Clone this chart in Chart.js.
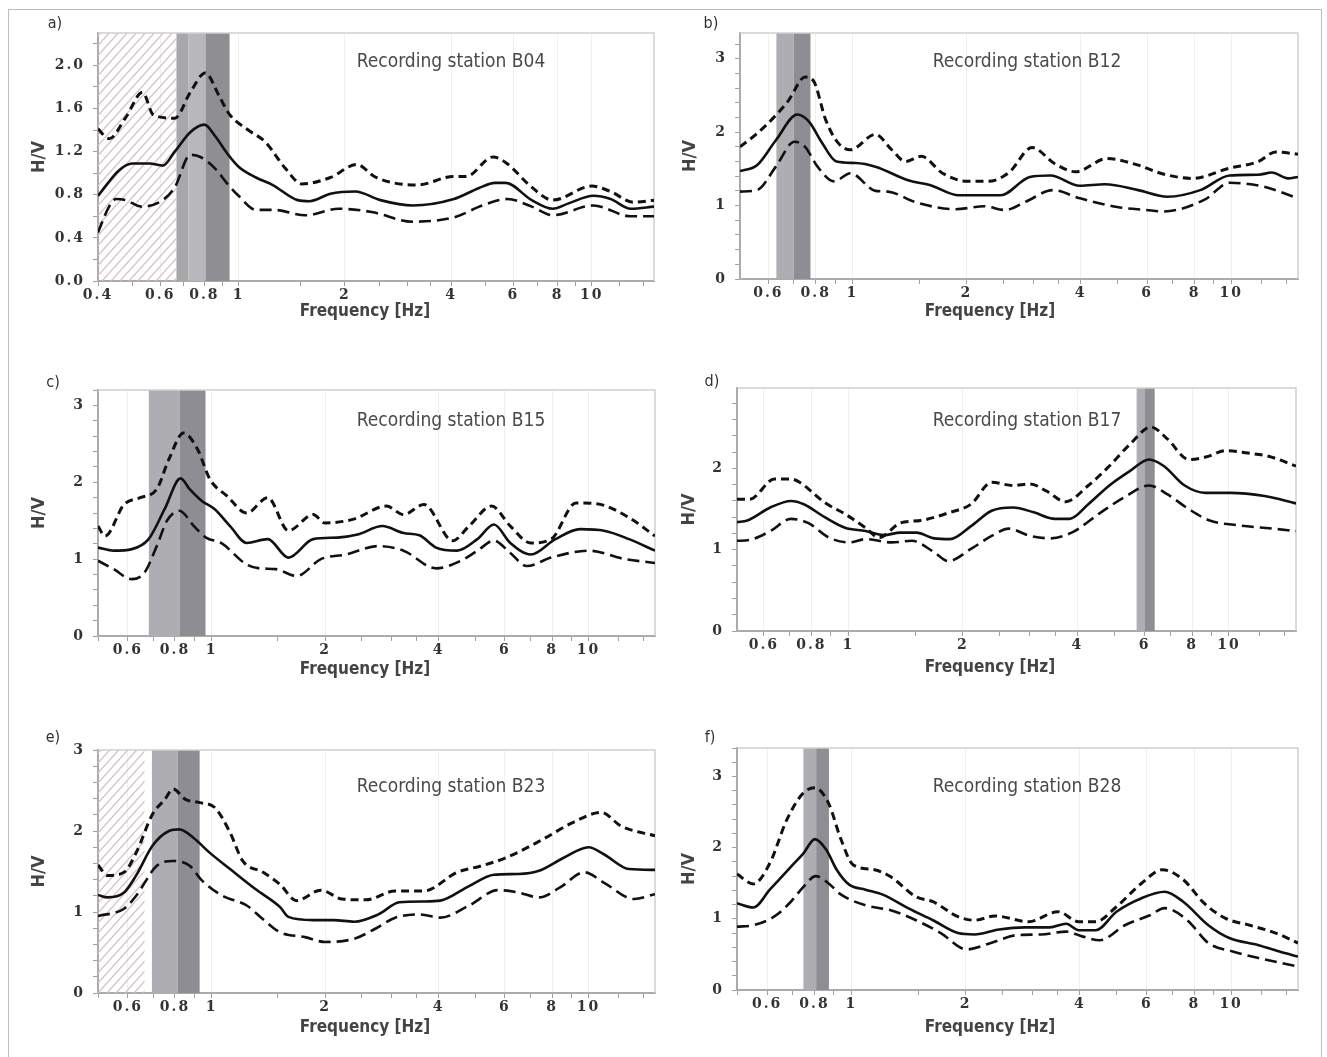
<!DOCTYPE html>
<html>
<head>
<meta charset="utf-8">
<script src="https://cdn.jsdelivr.net/npm/chart.js@4.4.1/dist/chart.umd.min.js"></script>
<style>
  html, body { margin:0; padding:0; background:#ffffff; }
  body { width:1327px; height:1057px; overflow:hidden; position:relative; }
  .frame { position:absolute; left:8px; top:9px; width:1314px; height:1100px; border:1px solid #bdbdbd; box-sizing:border-box; }
  canvas { position:absolute; }
</style>
</head>
<body>
<div class="frame"></div>
<script>
// ---------------- DATA ----------------
// Panel a) – station B04
const aMeanHz = [0.40,0.46,0.50,0.56,0.61,0.66,0.73,0.80,0.86,0.93,1.00,1.12,1.25,1.47,1.59,1.82,2.14,2.52,3.11,4.07,4.78,5.32,5.70,6.76,7.75,8.6,10.1,11.3,12.9,15];
const aMean   = [0.79,1.03,1.09,1.09,1.07,1.20,1.38,1.45,1.34,1.18,1.06,0.96,0.89,0.75,0.74,0.81,0.83,0.75,0.70,0.76,0.86,0.91,0.91,0.75,0.67,0.72,0.79,0.76,0.67,0.69];
const aUpHz   = [0.40,0.43,0.48,0.535,0.574,0.66,0.73,0.805,0.88,0.94,1.065,1.19,1.36,1.51,1.82,2.16,2.45,3.2,4.07,4.41,5.25,5.7,6.76,7.75,10.0,11.3,13.1,15];
const aUp     = [1.41,1.32,1.52,1.75,1.54,1.51,1.75,1.93,1.72,1.55,1.40,1.29,1.04,0.90,0.96,1.08,0.96,0.89,0.97,0.97,1.15,1.10,0.87,0.75,0.88,0.83,0.73,0.75];
const aLoHz   = [0.40,0.43,0.45,0.48,0.53,0.61,0.66,0.73,0.78,0.86,0.93,1.0,1.12,1.25,1.55,1.92,2.38,3.11,4.07,4.9,5.77,6.76,7.75,10.1,12.9,15];
const aLo     = [0.45,0.69,0.76,0.75,0.69,0.75,0.87,1.17,1.15,1.04,0.90,0.79,0.66,0.66,0.61,0.67,0.64,0.55,0.59,0.70,0.76,0.69,0.61,0.70,0.60,0.60];
const aBandHz = [0.667,0.72,0.806,0.943];
const aHatchHz = [0.4,0.667];

// Panel b) – station B12
const bMeanHz = [0.505,0.56,0.628,0.716,0.769,0.828,0.908,1.02,1.15,1.41,1.60,1.91,2.46,2.94,3.33,3.98,4.64,5.68,6.78,8.28,9.9,11.8,12.8,14.1,15];
const bMean   = [1.47,1.55,1.89,2.24,2.14,1.87,1.60,1.58,1.53,1.34,1.28,1.14,1.14,1.39,1.41,1.27,1.29,1.21,1.12,1.21,1.41,1.42,1.45,1.37,1.39];
const bUpHz   = [0.505,0.56,0.628,0.678,0.75,0.789,0.851,0.918,0.988,1.15,1.27,1.38,1.52,1.73,2.01,2.28,2.59,2.98,3.42,3.88,4.7,5.68,6.61,7.89,9.9,11.8,13.1,15];
const bUp     = [1.80,1.98,2.23,2.43,2.75,2.70,2.16,1.85,1.76,1.97,1.76,1.60,1.67,1.44,1.33,1.33,1.45,1.79,1.57,1.46,1.64,1.55,1.43,1.37,1.51,1.60,1.73,1.70];
const bLoHz   = [0.505,0.56,0.628,0.703,0.75,0.809,0.895,0.988,1.15,1.24,1.48,1.87,2.23,2.53,2.86,3.38,3.98,5.0,5.97,6.61,8.5,9.9,12.1,15];
const bLo     = [1.19,1.21,1.53,1.87,1.80,1.53,1.33,1.44,1.20,1.19,1.04,0.95,0.99,0.94,1.05,1.21,1.10,0.98,0.94,0.92,1.08,1.31,1.26,1.10];
const bBandHz = [0.63,0.70,0.775];

// Panel c) – station B15
const cMeanHz = [0.5,0.55,0.615,0.681,0.751,0.828,0.875,0.941,1.02,1.12,1.24,1.41,1.60,1.86,2.16,2.44,2.84,3.23,3.56,3.94,4.48,5.07,5.61,6.2,7.03,8.17,9.5,11.0,12.8,15];
const cMean   = [1.15,1.11,1.13,1.26,1.65,2.05,1.91,1.76,1.65,1.43,1.21,1.26,1.02,1.26,1.28,1.32,1.43,1.34,1.31,1.15,1.11,1.26,1.45,1.21,1.06,1.26,1.39,1.37,1.26,1.11];
const cUpHz   = [0.5,0.522,0.586,0.647,0.716,0.771,0.843,0.918,0.99,1.10,1.24,1.41,1.60,1.86,2.0,2.38,2.91,3.23,3.66,4.36,4.82,5.53,6.2,7.03,7.96,9.26,10.5,12.8,15];
const cUp     = [1.43,1.30,1.71,1.80,1.91,2.30,2.64,2.43,2.04,1.82,1.60,1.80,1.37,1.58,1.47,1.52,1.69,1.58,1.71,1.24,1.43,1.69,1.43,1.21,1.26,1.73,1.72,1.54,1.30];
const cLoHz   = [0.5,0.55,0.615,0.663,0.716,0.762,0.822,0.898,0.967,1.06,1.24,1.34,1.48,1.68,1.95,2.27,2.77,3.23,3.94,4.59,5.07,5.61,6.2,6.85,7.96,10.0,12.5,15];
const cLo     = [0.98,0.87,0.74,0.82,1.17,1.50,1.63,1.43,1.28,1.21,0.93,0.88,0.87,0.78,1.00,1.06,1.17,1.11,0.88,0.98,1.11,1.24,1.08,0.91,1.02,1.11,1.00,0.95];
const cBandHz = [0.682,0.823,0.964];

// Panel d) – station B17
const dMeanHz = [0.51,0.543,0.624,0.707,0.764,0.867,0.98,1.11,1.24,1.37,1.51,1.68,1.85,2.10,2.38,2.71,3.07,3.49,3.81,4.27,4.85,5.5,6.17,6.74,7.65,8.68,10.1,12.4,15];
const dMean   = [1.34,1.36,1.52,1.60,1.56,1.40,1.27,1.23,1.18,1.21,1.21,1.14,1.13,1.29,1.48,1.52,1.46,1.38,1.38,1.56,1.79,1.97,2.11,2.03,1.79,1.70,1.70,1.66,1.57];
const dUpHz   = [0.51,0.55,0.64,0.707,0.745,0.867,0.98,1.11,1.205,1.37,1.55,1.85,2.10,2.38,2.71,3.0,3.32,3.72,4.27,4.85,5.5,6.24,6.9,7.84,8.68,9.85,11.2,12.7,15];
const dUp     = [1.62,1.62,1.87,1.87,1.83,1.58,1.44,1.27,1.15,1.33,1.36,1.46,1.56,1.83,1.79,1.81,1.72,1.59,1.79,2.03,2.30,2.51,2.36,2.11,2.14,2.22,2.19,2.15,2.03];
const dLoHz   = [0.51,0.55,0.624,0.707,0.784,0.889,1.01,1.11,1.30,1.47,1.68,1.83,2.10,2.38,2.64,3.0,3.4,3.86,4.61,5.37,6.17,6.9,7.84,8.9,10.6,13.0,15];
const dLo     = [1.11,1.12,1.23,1.38,1.33,1.15,1.09,1.13,1.09,1.11,0.97,0.86,1.01,1.17,1.26,1.17,1.14,1.21,1.46,1.66,1.79,1.68,1.50,1.36,1.30,1.26,1.23];
const dBandHz = [5.72,6.0,6.38];

// Panel e) – station B23
const eMeanHz = [0.5,0.53,0.586,0.631,0.698,0.771,0.822,0.898,0.99,1.12,1.31,1.52,1.60,1.86,2.11,2.39,2.77,3.15,3.66,4.04,4.82,5.61,6.52,7.39,8.59,10.0,11.0,12.8,15];
const eMean   = [1.21,1.18,1.24,1.45,1.82,2.00,2.02,1.91,1.73,1.53,1.28,1.06,0.94,0.90,0.90,0.88,0.97,1.12,1.13,1.14,1.32,1.46,1.47,1.51,1.67,1.80,1.71,1.53,1.52];
const eUpHz   = [0.5,0.53,0.586,0.631,0.698,0.752,0.791,0.853,0.931,1.02,1.12,1.21,1.37,1.52,1.68,1.95,2.22,2.57,3.07,3.66,4.48,5.2,6.04,7.58,9.04,10.8,12.2,15];
const eUp     = [1.58,1.45,1.49,1.73,2.21,2.39,2.52,2.39,2.35,2.29,1.98,1.63,1.49,1.34,1.14,1.27,1.16,1.15,1.26,1.26,1.49,1.57,1.67,1.90,2.10,2.23,2.06,1.94];
const eLoHz   = [0.5,0.586,0.631,0.716,0.791,0.875,0.943,1.07,1.24,1.37,1.52,1.77,2.0,2.39,2.71,3.07,3.57,4.04,4.82,5.75,6.52,7.39,8.38,9.75,11.0,13.2,15];
const eLo     = [0.95,1.04,1.20,1.57,1.63,1.57,1.39,1.20,1.08,0.91,0.75,0.69,0.63,0.67,0.79,0.93,0.97,0.93,1.08,1.27,1.24,1.18,1.30,1.49,1.36,1.16,1.22];
const eBandHz = [0.695,0.813,0.930];
const eHatchHz = [0.5,0.664];

// Panel f) – station B28
const fMeanHz = [0.5,0.552,0.61,0.693,0.748,0.802,0.859,0.915,0.987,1.09,1.21,1.41,1.64,1.91,2.11,2.45,2.86,3.33,3.68,3.97,4.40,4.99,5.81,6.68,7.48,8.71,9.89,11.8,13.4,15];
const fMean   = [1.22,1.16,1.41,1.73,1.92,2.12,1.97,1.69,1.48,1.41,1.34,1.15,0.98,0.80,0.78,0.85,0.88,0.88,0.93,0.84,0.84,1.10,1.29,1.38,1.24,0.91,0.73,0.63,0.54,0.47];
const fUpHz   = [0.5,0.552,0.61,0.676,0.748,0.802,0.87,0.94,1.01,1.15,1.27,1.48,1.64,1.91,2.11,2.39,2.93,3.50,3.97,4.40,4.99,5.81,6.59,7.48,8.49,9.64,11.2,13.1,15];
const fUp     = [1.63,1.49,1.78,2.39,2.77,2.84,2.63,2.11,1.76,1.69,1.59,1.31,1.24,1.03,0.98,1.04,0.96,1.10,0.96,0.96,1.17,1.50,1.69,1.55,1.22,1.01,0.91,0.80,0.66];
const fLoHz   = [0.5,0.552,0.626,0.693,0.748,0.806,0.87,0.94,1.09,1.27,1.48,1.72,2.01,2.33,2.72,3.16,3.68,4.07,4.51,5.25,6.11,6.68,7.67,8.71,10.1,11.8,15];
const fLo     = [0.89,0.91,1.03,1.24,1.45,1.60,1.50,1.34,1.19,1.12,0.98,0.80,0.57,0.66,0.77,0.78,0.82,0.75,0.70,0.91,1.05,1.15,0.98,0.66,0.54,0.45,0.33];
const fBandHz = [0.748,0.808,0.873];

// Axis ticks and texts
const xTickHz     = [0.4,0.5,0.6,0.7,0.8,0.9,1,1.5,2,2.5,3,3.5,4,5,6,7,8,9,10,12,14];
const xLabelHzA   = [0.4,0.6,0.8,1,2,4,6,8,10];
const xLabelHz    = [0.6,0.8,1,2,4,6,8,10];
const stationNames = ['Recording station B04','Recording station B12','Recording station B15',
                      'Recording station B17','Recording station B23','Recording station B28'];
const panelLetters = ['a)','b)','c)','d)','e)','f)'];
const xAxisTitle = 'Frequency [Hz]';
const yAxisTitle = 'H/V';

// ---------------- LAYOUT / STYLE ----------------
const FONT_COND = "'DejaVu Sans Condensed','Liberation Sans Narrow','DejaVu Sans',sans-serif";
const FONT_TICK = "'DejaVu Serif','DejaVu Sans',serif";
const PAD_T = 30, PAD_R = 12, Y_W = 70, X_H = 48;

const panels = [
  {L:98,  T:33,  R:654,  B:281, xmin:0.4,   xmax:15, ymax:2.3,  ystep:0.4, yminor:0.2, dec:1, ytp:1,
   letter:[55,24],  station:[451,62],  xt:[365,312], labels:xLabelHzA,
   mean:[aMeanHz,aMean], up:[aUpHz,aUp], lo:[aLoHz,aLo], band:aBandHz, hatch:aHatchHz},
  {L:740, T:33,  R:1298, B:279, xmin:0.505, xmax:15, ymax:3.35, ystep:1, yminor:0.2, dec:0, ytp:10,
   letter:[711,24], station:[1027,62], xt:[990,312], labels:xLabelHz,
   mean:[bMeanHz,bMean], up:[bUpHz,bUp], lo:[bLoHz,bLo], band:bBandHz, hatch:null},
  {L:98,  T:390, R:655,  B:636, xmin:0.5,   xmax:15, ymax:3.2,  ystep:1, yminor:0.2, dec:0, ytp:1,
   letter:[53,383], station:[451,421], xt:[365,670], labels:xLabelHz,
   mean:[cMeanHz,cMean], up:[cUpHz,cUp], lo:[cLoHz,cLo], band:cBandHz, hatch:null},
  {L:737, T:388, R:1296, B:631, xmin:0.51,  xmax:15, ymax:2.99, ystep:1, yminor:0.2, dec:0, ytp:12,
   letter:[712,382], station:[1027,421], xt:[990,668], labels:xLabelHz,
   mean:[dMeanHz,dMean], up:[dUpHz,dUp], lo:[dLoHz,dLo], band:dBandHz, hatch:null},
  {L:98,  T:750, R:655,  B:993, xmin:0.5,   xmax:15, ymax:3.0,  ystep:1, yminor:0.2, dec:0, ytp:1,
   letter:[53,738], station:[451,787], xt:[365,1028], labels:xLabelHz,
   mean:[eMeanHz,eMean], up:[eUpHz,eUp], lo:[eLoHz,eLo], band:eBandHz, hatch:eHatchHz},
  {L:737, T:748, R:1298, B:990, xmin:0.5,   xmax:15, ymax:3.4,  ystep:1, yminor:0.2, dec:0, ytp:12,
   letter:[710,738], station:[1027,787], xt:[990,1028], labels:xLabelHz,
   mean:[fMeanHz,fMean], up:[fUpHz,fUp], lo:[fLoHz,fLo], band:fBandHz, hatch:null},
];

function pts(hz, v) { return hz.map((f, i) => ({x: f, y: v[i]})); }
function near(a, b) { return Math.abs(a - b) < 1e-6; }

panels.forEach((p, idx) => {
  const cl = p.L - Y_W, ct = p.T - PAD_T;
  const cw = (p.R - p.L) + Y_W + PAD_R, ch = (p.B - p.T) + PAD_T + X_H;
  const cv = document.createElement('canvas');
  cv.width = cw; cv.height = ch;
  cv.style.left = cl + 'px'; cv.style.top = ct + 'px';
  cv.style.width = cw + 'px'; cv.style.height = ch + 'px';
  document.body.appendChild(cv);

  const yTicks = [];
  for (let i = 0; i * p.yminor <= p.ymax + 1e-9; i++) yTicks.push(+(i * p.yminor).toFixed(4));
  const xTicks = xTickHz.filter(v => v >= p.xmin - 1e-9 && v <= p.xmax + 1e-9);

  const decor = {
    id: 'decor' + idx,
    beforeDraw(chart) {
      Object.values(chart.scales).forEach(s => {
        if (s._wrapped) return;
        const orig = s.drawLabels;
        s.drawLabels = function (ca) {
          const c = this.ctx; c.save(); c.letterSpacing = '2px'; orig.call(this, ca); c.restore();
        };
        s._wrapped = true;
      });
    },
    beforeDatasetsDraw(chart) {
      const {ctx, chartArea: a, scales: {x}} = chart;
      ctx.save();
      // shaded peak bands
      const cols = p.band.length === 4 ? ['#a8a8ab', '#b8b8bc', '#8e8e93'] : ['#adadb2', '#8d8d93'];
      for (let i = 0; i < p.band.length - 1; i++) {
        const x0 = x.getPixelForValue(p.band[i]), x1 = x.getPixelForValue(p.band[i + 1]);
        ctx.fillStyle = cols[i];
        ctx.fillRect(x0, a.top, x1 - x0, a.bottom - a.top);
      }
      // hatched low-frequency region
      if (p.hatch) {
        const x0 = x.getPixelForValue(p.hatch[0]), x1 = x.getPixelForValue(p.hatch[1]);
        const h = a.bottom - a.top;
        ctx.save();
        ctx.beginPath(); ctx.rect(x0, a.top, x1 - x0, h); ctx.clip();
        ctx.strokeStyle = '#d7c3c3'; ctx.lineWidth = 1.3;
        ctx.beginPath();
        for (let k = x0 - h; k < x1 + 2; k += 9) { ctx.moveTo(k, a.bottom); ctx.lineTo(k + h * 0.9, a.top); }
        ctx.stroke();
        ctx.restore();
      }
      // top / right frame
      ctx.strokeStyle = '#cfcfcf'; ctx.lineWidth = 1.5;
      ctx.beginPath();
      ctx.moveTo(a.left, a.top); ctx.lineTo(a.right, a.top); ctx.lineTo(a.right, a.bottom);
      ctx.stroke();
      ctx.restore();
    },
    afterDraw(chart) {
      const ctx = chart.ctx;
      ctx.save();
      ctx.textAlign = 'center'; ctx.textBaseline = 'middle';
      ctx.fillStyle = '#333';
      ctx.font = '16px ' + FONT_COND;
      ctx.fillText(panelLetters[idx], p.letter[0] - cl, p.letter[1] - ct);
      ctx.fillStyle = '#4a4a4a';
      ctx.font = '19px ' + FONT_COND;
      ctx.fillText(stationNames[idx], p.station[0] - cl, p.station[1] - ct);
      ctx.fillStyle = '#444';
      ctx.font = 'bold 17px ' + FONT_COND;
      ctx.fillText(xAxisTitle, p.xt[0] - cl, p.xt[1] - ct);
      ctx.restore();
    }
  };

  new Chart(cv, {
    type: 'line',
    data: {
      datasets: [
        {label: 'mean', data: pts(p.mean[0], p.mean[1]), borderColor: '#111', borderWidth: 2.6,
         pointRadius: 0, cubicInterpolationMode: 'monotone', fill: false},
        {label: 'mean + std', data: pts(p.up[0], p.up[1]), borderColor: '#111', borderWidth: 3,
         borderDash: [8, 5], pointRadius: 0, cubicInterpolationMode: 'monotone', fill: false},
        {label: 'mean - std', data: pts(p.lo[0], p.lo[1]), borderColor: '#111', borderWidth: 2.6,
         borderDash: [12, 6], pointRadius: 0, cubicInterpolationMode: 'monotone', fill: false},
      ]
    },
    options: {
      responsive: false, animation: false, devicePixelRatio: 1,
      layout: {padding: {left: 0, top: PAD_T, right: PAD_R, bottom: 0}},
      plugins: {legend: {display: false}, tooltip: {enabled: false}},
      scales: {
        x: {
          type: 'logarithmic', min: p.xmin, max: p.xmax,
          afterFit(s) { s.height = X_H; },
          afterBuildTicks(s) { s.ticks = xTicks.map(v => ({value: v})); },
          ticks: {
            autoSkip: false, maxRotation: 0, minRotation: 0, padding: 1,
            color: '#333', font: {family: FONT_TICK, size: 14, weight: 'bold'},
            callback: (v) => p.labels.some(l => near(l, v)) ? String(v) : ''
          },
          grid: {
            color: (c) => (c.tick && p.labels.some(l => near(l, c.tick.value)) && c.tick.value > p.xmin + 1e-6) ? 'rgba(0,0,0,0.06)' : 'rgba(0,0,0,0)',
            tickColor: '#a0a0a0', tickLength: 5, lineWidth: 1
          },
          border: {display: true, color: '#ababab', width: 2}
        },
        y: {
          type: 'linear', min: 0, max: p.ymax,
          afterFit(s) { s.width = Y_W; },
          afterBuildTicks(s) { s.ticks = yTicks.map(v => ({value: v})); },
          ticks: {
            autoSkip: false, padding: 8,
            color: '#333', font: {family: FONT_TICK, size: 14, weight: 'bold'},
            callback: (v) => {
              const r = v / p.ystep;
              return near(r, Math.round(r)) ? Number(v).toFixed(p.dec) : '';
            }
          },
          grid: {drawOnChartArea: false, color: '#a0a0a0', tickColor: '#a0a0a0', tickLength: 5},
          border: {display: true, color: '#ababab', width: 2},
          title: {display: true, text: yAxisTitle, color: '#444',
                  font: {family: FONT_COND, size: 18, weight: 'bold'},
                  padding: {top: p.ytp, bottom: 0}}
        }
      }
    },
    plugins: [decor]
  });
});
</script>
</body>
</html>
